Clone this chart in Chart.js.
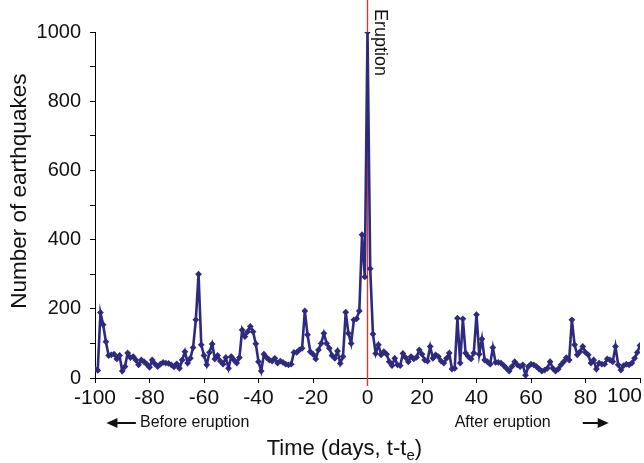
<!DOCTYPE html>
<html>
<head>
<meta charset="utf-8">
<script src="https://cdn.jsdelivr.net/npm/chart.js@4.4.1/dist/chart.umd.min.js"></script>
<style>
  html, body { margin: 0; padding: 0; background: #fff; overflow: hidden; }
  #wrap { position: relative; width: 644px; height: 463px; }
</style>
</head>
<body>
<div id="wrap"><canvas id="chart-earthquakes"></canvas></div>
<script>
// daily earthquake counts, one value per day starting at firstDay
var firstDay = -100;
var quakeCounts = [
  // -100 .. -91
  26, 22, 189, 154, 105, 65, 67, 69, 55, 65,
  // -90 .. -81
  20, 33, 72, 59, 62, 52, 38, 52, 47, 40,
  // -80 .. -71
  31, 52, 41, 33, 40, 45, 43, 42, 38, 32,
  // -70 .. -61
  41, 28, 52, 76, 43, 57, 88, 168, 300, 96,
  // -60 .. -51
  65, 38, 74, 98, 55, 65, 49, 40, 59, 28,
  // -50 .. -41
  62, 52, 43, 59, 139, 120, 134, 149, 134, 99,
  // -40 .. -31
  47, 20, 69, 59, 52, 49, 57, 43, 49, 45,
  // -30 .. -21
  40, 38, 40, 74, 74, 81, 86, 194, 125, 76,
  // -20 .. -11
  69, 55, 81, 100, 129, 100, 86, 65, 57, 78,
  // -10 .. -1
  42, 62, 190, 129, 100, 168, 171, 194, 414, 292,
  // 0 .. 9
  1000, 316, 127, 71, 96, 67, 76, 69, 47, 36,
  // 10 .. 19
  57, 38, 36, 71, 59, 47, 62, 55, 60, 81,
  // 20 .. 29
  69, 52, 49, 91, 57, 67, 62, 49, 43, 57,
  // 30 .. 39
  72, 26, 28, 173, 43, 171, 72, 62, 55, 72,
  // 40 .. 49
  183, 69, 113, 52, 47, 40, 88, 45, 45, 43,
  // 50 .. 59
  36, 28, 20, 33, 47, 38, 33, 38, 8, 33,
  // 60 .. 69
  40, 38, 33, 26, 20, 23, 28, 47, 28, 20,
  // 70 .. 79
  26, 38, 47, 59, 52, 168, 96, 67, 76, 91,
  // 80 .. 89
  74, 67, 43, 52, 26, 43, 40, 40, 55, 52,
  // 90 .. 99
  47, 91, 38, 23, 36, 40, 38, 43, 57, 74,
  // 100
  94
];
var eruptionDay = 0;
var xMin = -100;
var xMax = 100;
var yLabelValues = [0, 200, 400, 600, 800, 1000];

var points = quakeCounts.map(function (v, i) {
  return { x: firstDay + i, y: v };
});

var lineColor = "#2e2a80";
var fontFamily = "'Liberation Sans', Arial, sans-serif";

function arrow(ctx, x0, x1, y) {
  var dir = x1 > x0 ? 1 : -1;
  ctx.beginPath();
  ctx.moveTo(x0, y);
  ctx.lineTo(x1 - dir * 8, y);
  ctx.stroke();
  ctx.beginPath();
  ctx.moveTo(x1, y);
  ctx.lineTo(x1 - dir * 11, y - 5);
  ctx.lineTo(x1 - dir * 11, y + 5);
  ctx.closePath();
  ctx.fill();
}

var annotations = {
  id: "annotations",
  beforeDatasetsDraw: function (chart) {
    var ctx = chart.ctx;
    var area = chart.chartArea;
    var px = chart.scales.x.getPixelForValue(eruptionDay);
    ctx.save();
    ctx.strokeStyle = "#d63c2c";
    ctx.lineWidth = 1.4;
    ctx.beginPath();
    ctx.moveTo(px, 0);
    ctx.lineTo(px, area.bottom + 8);
    ctx.stroke();
    ctx.restore();
  },
  afterDraw: function (chart) {
    var ctx = chart.ctx;
    var area = chart.chartArea;
    var x = chart.scales.x;
    var px = x.getPixelForValue(eruptionDay);
    ctx.save();
    ctx.fillStyle = "#111";
    ctx.strokeStyle = "#111";

    // last x tick label sits inside the right edge
    ctx.font = "21px " + fontFamily;
    ctx.textAlign = "right";
    ctx.textBaseline = "top";
    var firstLabel = x._labelItems && x._labelItems[0];
    var labelTop = firstLabel ? firstLabel.options.translation[1] : area.bottom + 8;
    ctx.fillText(String(xMax), x.getPixelForValue(xMax) + 2, labelTop);

    // "Eruption" beside the red line
    ctx.save();
    ctx.translate(px + 12, 9);
    ctx.rotate(Math.PI / 2);
    ctx.font = "18px " + fontFamily;
    ctx.textAlign = "left";
    ctx.textBaseline = "middle";
    ctx.fillText("Eruption", 0, 0);
    ctx.restore();

    // before / after notes with arrows
    ctx.font = "16px " + fontFamily;
    ctx.textBaseline = "middle";
    ctx.textAlign = "left";
    ctx.lineWidth = 2;
    var yNote = area.bottom + 45;
    ctx.fillText("Before eruption", x.getPixelForValue(-83.5), yNote);
    arrow(ctx, x.getPixelForValue(-85), x.getPixelForValue(-95.8), yNote);
    ctx.fillText("After eruption", x.getPixelForValue(32), yNote);
    arrow(ctx, x.getPixelForValue(79), x.getPixelForValue(88.5), yNote);

    // x axis title with subscript
    var main = "Time (days, t-t";
    ctx.font = "22px " + fontFamily;
    var w1 = ctx.measureText(main).width;
    ctx.font = "15px " + fontFamily;
    var w2 = ctx.measureText("e").width;
    ctx.font = "22px " + fontFamily;
    var w3 = ctx.measureText(")").width;
    var start = x.getPixelForValue(-8.5) - (w1 + w2 + w3) / 2;
    var base = area.bottom + 77;
    ctx.textBaseline = "alphabetic";
    ctx.fillText(main, start, base);
    ctx.font = "15px " + fontFamily;
    ctx.fillText("e", start + w1, base + 5);
    ctx.font = "22px " + fontFamily;
    ctx.fillText(")", start + w1 + w2, base);

    // y axis title
    ctx.save();
    ctx.translate(20, chart.scales.y.getPixelForValue(540));
    ctx.rotate(-Math.PI / 2);
    ctx.font = "22.5px " + fontFamily;
    ctx.textAlign = "center";
    ctx.textBaseline = "middle";
    ctx.fillText("Number of earthquakes", 0, 0);
    ctx.restore();

    ctx.restore();
  },
};

var ctx = document.getElementById("chart-earthquakes").getContext("2d");

new Chart(ctx, {
  type: "line",
  data: {
    datasets: [
      {
        label: "Earthquakes",
        data: points,
        borderColor: lineColor,
        backgroundColor: lineColor,
        borderWidth: 2.6,
        tension: 0,
        pointStyle: "rectRot",
        pointRadius: 3.4,
        pointBorderWidth: 0,
        pointBackgroundColor: lineColor,
      },
    ],
  },
  options: {
    responsive: true,
    maintainAspectRatio: false,
    animation: false,
    layout: {
      padding: { top: 32, right: 0, left: 0, bottom: 0 },
    },
    plugins: {
      legend: { display: false },
      tooltip: { enabled: false },
    },
    scales: {
      x: {
        type: "linear",
        min: xMin,
        max: xMax,
        afterFit: function (scale) {
          scale.height = 85;
        },
        border: { display: true, color: "#000", width: 1 },
        grid: {
          display: true,
          drawOnChartArea: false,
          drawTicks: true,
          tickLength: 5,
          color: "#000",
        },
        ticks: {
          stepSize: 20,
          autoSkip: false,
          maxRotation: 0,
          padding: 3,
          color: "#111",
          font: { size: 21, family: fontFamily },
          callback: function (value) {
            return value === xMax ? "" : String(value);
          },
        },
      },
      y: {
        min: 0,
        max: 1000,
        afterFit: function (scale) {
          scale.width = 95;
        },
        border: { display: true, color: "#000", width: 1 },
        grid: {
          display: true,
          drawOnChartArea: false,
          drawTicks: true,
          tickLength: 5,
          color: "#000",
        },
        ticks: {
          stepSize: 100,
          padding: 9,
          color: "#111",
          font: { size: 20, family: fontFamily },
          callback: function (value) {
            return yLabelValues.indexOf(value) >= 0 ? String(value) : "";
          },
        },
      },
    },
  },
  plugins: [annotations],
});
</script>
</body>
</html>
